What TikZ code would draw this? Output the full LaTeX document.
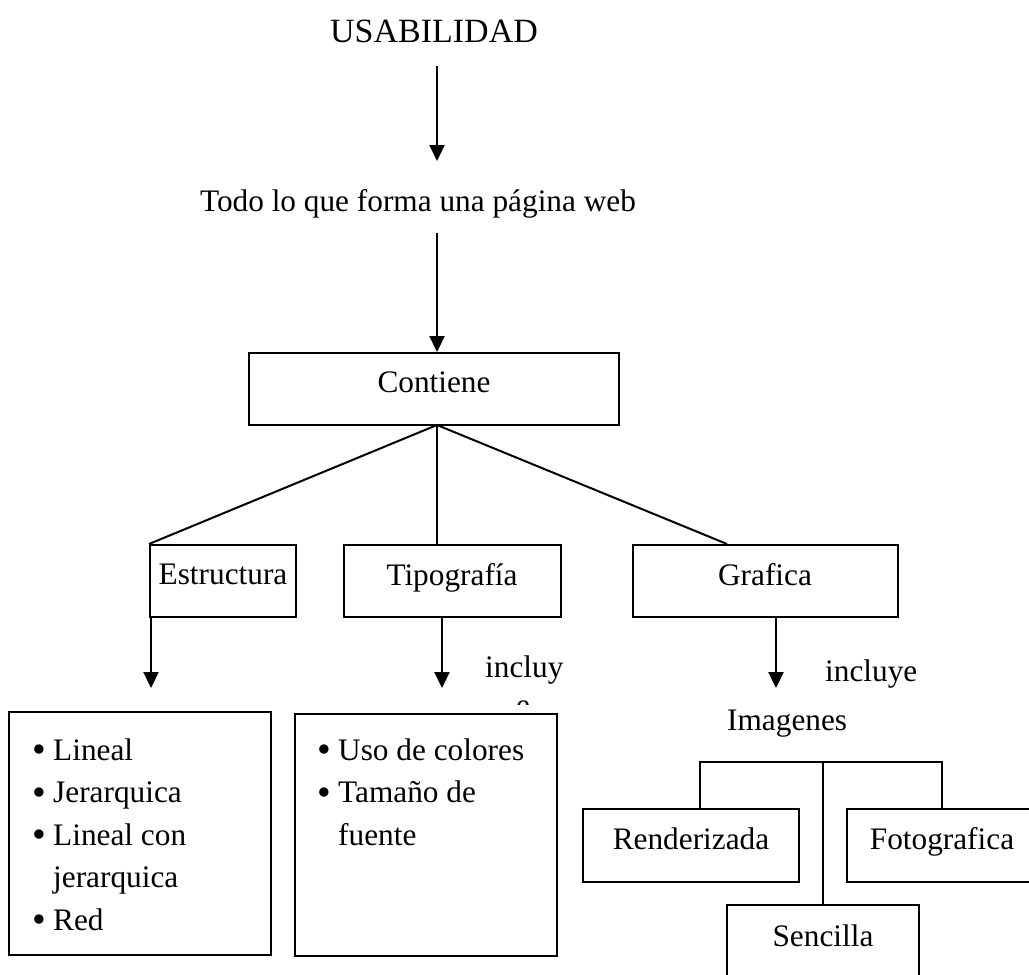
\documentclass[tikz,border=0pt]{standalone}
\usepackage{fontspec}
\usepackage{graphicx}
\setmainfont{Liberation Serif}
\usetikzlibrary{arrows.meta}
\newcommand\lbul{\makebox[21pt][l]{\raisebox{-2.5pt}{\scalebox{1.25}{\textbullet}}}}
\begin{document}
\begin{tikzpicture}[x=1pt,y=-1pt,
  txt/.style={font=\fontsize{31.3}{37}\selectfont, inner sep=0pt},
  box/.style={txt, draw, line width=2pt, text depth=14pt, minimum height=72pt},
  listbox/.style={draw, line width=2pt, inner sep=0pt},
  ln/.style={line width=2pt},
  arr/.style={line width=2.3pt, -{Triangle[width=15pt,length=16pt]}}]
\clip (0,0) rectangle (1029,975);
% top
\node[txt, font=\fontsize{34}{40}\selectfont, anchor=base] (usab) at (434,42) {USABILIDAD};
\node[txt, anchor=base] (todo) at (418,211) {Todo lo que forma una página web};
\coordinate (a1s) at (437,66);
\coordinate (a1e) at (437,161);
\draw[arr] (a1s) -- (a1e);
\node[box, minimum width=370pt] (cont) at (434,389) {Contiene};
\coordinate (a2s) at (437,233);
\draw[arr] (a2s) -- (a2s |- cont.north);
% second level
\node[box, minimum width=146pt] (estr) at (223,581) {Estructura};
\node[box, minimum width=217pt] (tipo) at (452,581) {Tipografía};
\node[box, minimum width=265pt] (graf) at (765,581) {Grafica};
\coordinate (apex) at (437,425);
\coordinate (gtop) at (727,545);
\draw[ln] (apex) -- (estr.north west);
\draw[ln] (apex) -- (apex |- tipo.north);
\draw[ln] (apex) -- (gtop |- graf.north);
% arrows down
\coordinate (e1) at (151,688);
\coordinate (t1) at (442,688);
\coordinate (g1) at (776,688);
\draw[arr] (e1 |- estr.south) -- (e1);
\draw[arr] (t1 |- tipo.south) -- (t1);
\draw[arr] (g1 |- graf.south) -- (g1);
\node[txt, anchor=base west] (incl1) at (485,677) {incluy};
\begin{scope}
  \clip (480,696) rectangle (570,704.5);
  \node[txt, anchor=base west] (incl1e) at (516,715.5) {e};
\end{scope}
\node[txt, anchor=base west] (incl2) at (825,681) {incluye};
% list boxes
\node[listbox, minimum width=262pt, minimum height=243pt] (lb1) at (140,833.5) {};
\node[listbox, minimum width=262pt, minimum height=242pt] (lb2) at (426,835) {};
\node[txt, anchor=base west] (l1) at (32,760) {\lbul Lineal};
\node[txt, anchor=base west] (l2) at (32,802.5) {\lbul Jerarquica};
\node[txt, anchor=base west] (l3) at (32,845) {\lbul Lineal con};
\node[txt, anchor=base west] (l4) at (53,887.5) {jerarquica};
\node[txt, anchor=base west] (l5) at (32,930) {\lbul Red};
\node[txt, anchor=base west] (m1) at (317,760) {\lbul Uso de colores};
\node[txt, anchor=base west] (m2) at (317,802.5) {\lbul Tamaño de};
\node[txt, anchor=base west] (m3) at (338,845) {fuente};
% images
\node[txt, anchor=base west] (imag) at (727,730) {Imagenes};
\node[box, minimum width=216pt, minimum height=73pt] (rend) at (691,845.5) {Renderizada};
\node[box, minimum width=190pt, minimum height=73pt] (foto) at (942,845.5) {Fotografica};
\node[box, minimum width=192pt, minimum height=75pt] (senc) at (823,942.5) {Sencilla};
\coordinate (bk) at (823,762);
\coordinate (bl) at (700,762);
\coordinate (br) at (942,762);
\draw[ln] (bk) -- (senc.north);
\draw[ln] (bl |- rend.north) -- (bl) -- (br) -- (foto.north);
\end{tikzpicture}
\end{document}
